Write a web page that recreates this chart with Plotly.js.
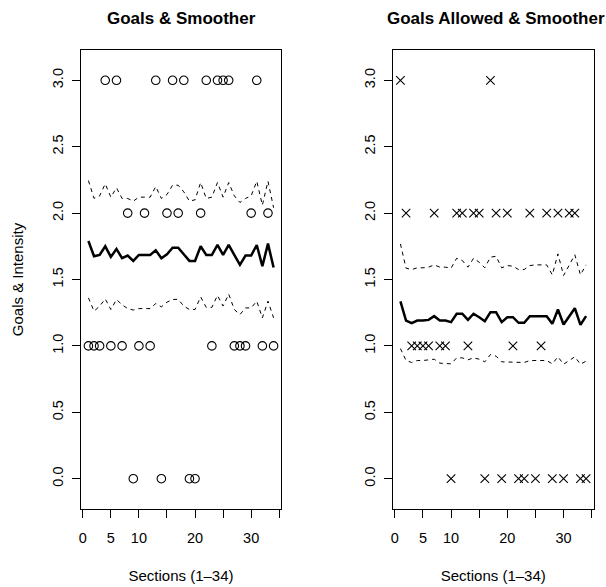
<!DOCTYPE html>
<html>
<head>
<meta charset="utf-8">
<script src="https://cdn.plot.ly/plotly-3.0.1.min.js"></script>
<style>html,body{margin:0;padding:0;background:#fff;}#chart{width:606px;height:587px;}</style>
</head>
<body>
<div id="chart"></div>
<script>
// Sections 1..34
const sections = [1,2,3,4,5,6,7,8,9,10,11,12,13,14,15,16,17,18,19,20,21,22,23,24,25,26,27,28,29,30,31,32,33,34];

// Goals scored per section
const goals = [1,1,1,3,1,3,1,2,0,1,2,1,3,0,2,3,2,3,0,0,2,3,1,3,3,3,1,1,1,2,3,1,2,1];
// Smoother (intensity) for goals, with upper/lower bands
const goalsSmooth = [1.79,1.675,1.685,1.75,1.67,1.73,1.66,1.68,1.64,1.685,1.685,1.685,1.72,1.66,1.69,1.74,1.74,1.69,1.64,1.64,1.75,1.685,1.685,1.76,1.685,1.76,1.685,1.61,1.68,1.68,1.76,1.60,1.77,1.59];
const goalsUpper = [2.245,2.111,2.13,2.22,2.12,2.19,2.11,2.11,2.09,2.12,2.12,2.12,2.20,2.11,2.14,2.21,2.21,2.16,2.09,2.10,2.23,2.11,2.12,2.23,2.12,2.23,2.13,2.08,2.11,2.13,2.24,2.06,2.24,2.04];
const goalsLower = [1.362,1.262,1.299,1.354,1.274,1.349,1.31,1.281,1.27,1.281,1.281,1.281,1.319,1.294,1.329,1.35,1.35,1.30,1.274,1.274,1.369,1.29,1.29,1.38,1.30,1.39,1.274,1.236,1.286,1.286,1.337,1.211,1.337,1.211];

// Goals allowed per section
const allowed = [3,2,1,1,1,1,2,1,1,0,2,2,1,2,2,0,3,2,0,2,1,0,0,2,0,1,2,0,2,0,2,2,0,0];
const allowedSmooth = [1.336,1.191,1.171,1.191,1.191,1.196,1.224,1.191,1.191,1.179,1.242,1.242,1.196,1.242,1.216,1.186,1.254,1.254,1.179,1.216,1.216,1.174,1.174,1.224,1.224,1.224,1.224,1.166,1.274,1.161,1.22,1.284,1.159,1.224];
const allowedUpper = [1.768,1.585,1.575,1.588,1.588,1.593,1.61,1.593,1.593,1.585,1.66,1.643,1.593,1.66,1.63,1.588,1.668,1.675,1.588,1.605,1.60,1.575,1.575,1.605,1.61,1.61,1.61,1.535,1.693,1.53,1.61,1.686,1.535,1.61];
const allowedLower = [0.98,0.89,0.875,0.89,0.89,0.895,0.90,0.87,0.87,0.865,0.91,0.91,0.895,0.91,0.90,0.88,0.935,0.923,0.88,0.88,0.88,0.875,0.875,0.89,0.89,0.89,0.89,0.865,0.918,0.862,0.89,0.918,0.862,0.885];

// Axis ticks
const xTickVals = [0,5,10,15,20,25,30,35];
const xTickText = ['0','5','10','','20','','30',''];
const yTickVals = [0,0.5,1,1.5,2,2.5,3];

const titles = ['Goals & Smoother','Goals Allowed & Smoother'];
const xTitle = 'Sections (1\u201334)';
const yTitle = 'Goals & Intensity';

const FONT = 'Liberation Sans, Arial, Helvetica, sans-serif';

function panelTraces(y, sm, up, lo, sym, xa, ya) {
  return [
    {x: sections, y: y, type: 'scatter', mode: 'markers', xaxis: xa, yaxis: ya,
     marker: {symbol: sym, size: 8.5, color: 'black', line: {color: 'black', width: 1.1}}},
    {x: sections, y: sm, type: 'scatter', mode: 'lines', xaxis: xa, yaxis: ya,
     line: {color: 'black', width: 2.5}},
    {x: sections, y: up, type: 'scatter', mode: 'lines', xaxis: xa, yaxis: ya,
     line: {color: 'black', width: 1, dash: '4px,4px'}},
    {x: sections, y: lo, type: 'scatter', mode: 'lines', xaxis: xa, yaxis: ya,
     line: {color: 'black', width: 1, dash: '4px,4px'}}
  ];
}

const data = [].concat(
  panelTraces(goals, goalsSmooth, goalsUpper, goalsLower, 'circle-open', 'x', 'y'),
  panelTraces(allowed, allowedSmooth, allowedUpper, allowedLower, 'x-thin-open', 'x2', 'y2')
);

function xAxis(domain, anchor) {
  return {
    domain: domain, anchor: anchor, range: [-0.32, 35.32],
    tickmode: 'array', tickvals: xTickVals, ticktext: xTickText,
    ticks: 'outside', ticklen: 8, tickwidth: 1, tickcolor: 'black',
    showline: true, mirror: true, linecolor: 'black', linewidth: 1,
    showgrid: false, zeroline: false, ticklabelstandoff: 8,
    tickfont: {family: FONT, size: 14.5, color: 'black'},
    title: {text: xTitle, font: {family: FONT, size: 15, color: 'black'}, standoff: 25},
    automargin: false, fixedrange: true
  };
}
function yAxis(domain, anchor, withTitle) {
  const a = {
    domain: domain, anchor: anchor, range: [-0.228, 3.228],
    tickmode: 'array', tickvals: yTickVals, tickformat: '.1f', tickangle: -90,
    ticks: 'outside', ticklen: 8, tickwidth: 1, tickcolor: 'black',
    showline: true, mirror: true, linecolor: 'black', linewidth: 1,
    showgrid: false, zeroline: false, ticklabelstandoff: 3,
    tickfont: {family: FONT, size: 14.5, color: 'black'},
    automargin: false, fixedrange: true
  };
  if (withTitle) a.title = {text: yTitle, font: {family: FONT, size: 15, color: 'black'}, standoff: 22};
  return a;
}

const yDom = [1 - 509/587, 1 - 50/587];
const layout = {
  width: 606, height: 587,
  margin: {l: 0, r: 0, t: 0, b: 0},
  paper_bgcolor: 'white', plot_bgcolor: 'white',
  showlegend: false,
  xaxis: xAxis([81/606, 281/606], 'y'),
  yaxis: yAxis(yDom, 'x', true),
  xaxis2: xAxis([393/606, 593.5/606], 'y2'),
  yaxis2: yAxis(yDom, 'x2', false),
  annotations: [
    {text: '<b>' + titles[0] + '</b>', xref: 'paper', yref: 'paper', x: 181/606, y: 1 - 18/587,
     xanchor: 'center', yanchor: 'middle', showarrow: false, font: {family: FONT, size: 17, color: 'black'}},
    {text: '<b>' + titles[1] + '</b>', xref: 'paper', yref: 'paper', x: 496/606, y: 1 - 18/587,
     xanchor: 'center', yanchor: 'middle', showarrow: false, font: {family: FONT, size: 17, color: 'black'}}
  ]
};

Plotly.newPlot('chart', data, layout, {staticPlot: true, displayModeBar: false});
</script>
</body>
</html>
